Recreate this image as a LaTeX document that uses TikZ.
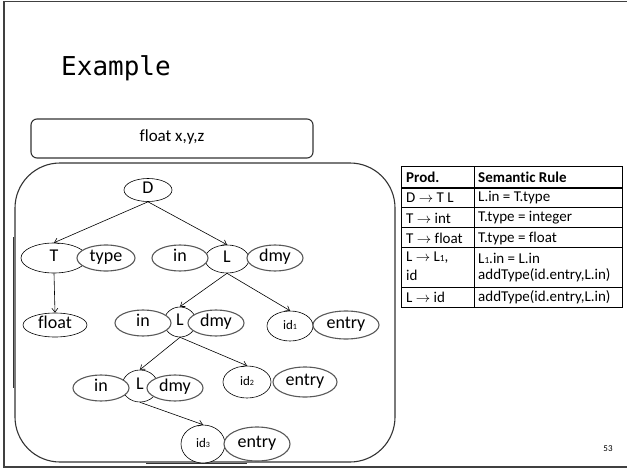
\documentclass[tikz,border=0pt]{standalone}
\usepackage{fontspec}
\usetikzlibrary{shapes.geometric,arrows.meta}
\newfontfamily\carl[Ligatures=NoCommon]{Carlito}
\newfontfamily\slidemono{DejaVu Sans Mono}
\newcommand{\sm}[1]{{\fontsize{0.62em}{1em}\selectfont #1}}
\tikzset{
  tnode/.style={ellipse, draw=black, line width=0.6pt, fill=white, inner sep=0pt,
    text height=0.76em, text depth=0.14em, font=\carl\fontsize{18}{18}\selectfont},
  attr/.style={ellipse, draw=black!65, line width=1.1pt, fill=white, inner sep=0pt,
    text height=0.76em, text depth=0.14em, font=\carl\fontsize{18}{18}\selectfont},
  idnode/.style={tnode, font=\carl\fontsize{13}{13}\selectfont},
  edge/.style={line width=0.6pt, -{Straight Barb[length=4pt,width=6pt]}},
  frameline/.style={line width=1.6pt, draw=black!75},
  boxline/.style={line width=1.1pt, draw=black!80},
  tcell/.style={anchor=west, inner sep=0pt, font=\carl\fontsize{15}{17}\selectfont},
  thead/.style={tcell, font=\carl\bfseries\fontsize{15}{17}\selectfont},
  rule/.style={line width=0.7pt}
}
\begin{document}
\begin{tikzpicture}[x=1pt, y=-1pt]
\useasboundingbox (0,0) rectangle (627,471);
% slide frame
\draw[frameline] (630,1.5) -- (4,1.5) -- (4,467) -- (630,467);
% title
\node[anchor=base west, inner sep=0pt, font=\slidemono\fontsize{26}{26}\selectfont] (title) at (61,75) {Example};
% declaration box
\node[draw=black!80, line width=1.1pt, rounded corners=6pt, minimum width=282pt, minimum height=39pt,
  text height=0.72em, text depth=0.2em, font=\carl\fontsize{17}{17}\selectfont] (decl) at (172,138.5) {float x,y,z};
% box round the tree
\draw[boxline, rounded corners=45pt] (15,163) rectangle (395,462);
\draw[line width=1.2pt, black!80] (13.5,237) -- (13.5,388);
\draw[line width=1.2pt, black!80] (146,463.5) -- (247,463.5);

% grammar symbols
\node[tnode, minimum width=48pt, minimum height=23pt] (D) at (148,190) {D};
\node[tnode, minimum width=66pt, minimum height=30pt] (T) at (54,258) {T};
\node[tnode, minimum width=44pt, minimum height=28pt] (L1) at (227,259) {L};
\node[tnode, minimum width=64pt, minimum height=24pt] (fl) at (55,325) {float};
\node[tnode, minimum width=32pt, minimum height=30pt] (L2) at (180,322) {L};
\node[idnode, minimum width=46pt, minimum height=30pt] (id1) at (290,326) {id\sm{1}};
\node[tnode, minimum width=36pt, minimum height=32pt] (L3) at (140,386) {L};
\node[idnode, minimum width=48pt, minimum height=32pt] (id2) at (247,382) {id\sm{2}};
\node[idnode, minimum width=44pt, minimum height=38pt] (id3) at (203,444) {id\sm{3}};

% attributes
\node[attr, minimum width=58pt, minimum height=26pt] (ty) at (106,258) {type};
\node[attr, minimum width=56pt, minimum height=26pt] (in1) at (180,258) {in};
\node[attr, minimum width=56pt, minimum height=26pt] (dm1) at (275,258) {dmy};
\node[attr, minimum width=56pt, minimum height=26pt] (in2) at (143,323) {in};
\node[attr, minimum width=56pt, minimum height=26pt] (dm2) at (216,323) {dmy};
\node[attr, minimum width=66pt, minimum height=28pt] (en1) at (346,325) {entry};
\node[attr, minimum width=56pt, minimum height=26pt] (in3) at (101,388) {in};
\node[attr, minimum width=56pt, minimum height=26pt] (dm3) at (175,388) {dmy};
\node[attr, minimum width=64pt, minimum height=30pt] (en2) at (305,382) {entry};
\node[attr, minimum width=66pt, minimum height=34pt] (en3) at (257,444) {entry};

% parse tree edges
\draw[edge] (D.south) -- (T.north);
\draw[edge] (D.south) -- (L1.north);
\draw[edge] (T.south) -- (fl.north);
\draw[edge] (L1.south) -- (L2.north);
\draw[edge] (L1.south) -- (id1.north);
\draw[edge] (L2.south) -- (L3.north);
\draw[edge] (L2.south) -- (id2.north);
\draw[edge] (L3.south) -- (id3.north);

% semantic rules table
\draw[rule] (401,166) rectangle (622,307);
\draw[rule] (474,166) -- (474,307);
\draw[line width=1.5pt] (401,188) -- (622,188);
\draw[rule] (401,207.5) -- (622,207.5);
\draw[rule] (401,227.5) -- (622,227.5);
\draw[rule] (401,247.5) -- (622,247.5);
\draw[rule] (401,287) -- (622,287);
\node[thead] (h1) at (406,177) {Prod.};
\node[thead] (h2) at (478,177) {Semantic Rule};
\node[tcell] (p1) at (406,198) {D $\rightarrow$ T L};
\node[tcell] (r1) at (478,198) {L.in = T.type};
\node[tcell] (p2) at (406,218) {T $\rightarrow$ int};
\node[tcell] (r2) at (478,218) {T.type = integer};
\node[tcell] (p3) at (406,238) {T $\rightarrow$ float};
\node[tcell] (r3) at (478,238) {T.type = float};
\node[tcell] (p4) at (406,258) {L $\rightarrow$ L\sm{1},};
\node[tcell] (p4b) at (406,275) {id};
\node[tcell] (r4) at (478,258) {L\sm{1}.in = L.in};
\node[tcell] (r4b) at (478,275) {addType(id.entry,L.in)};
\node[tcell] (p5) at (406,297) {L $\rightarrow$ id};
\node[tcell] (r5) at (478,297) {addType(id.entry,L.in)};

% slide number
\node[font=\carl\fontsize{9}{9}\selectfont, inner sep=0pt] (num) at (608,449) {53};
\end{tikzpicture}
\end{document}
